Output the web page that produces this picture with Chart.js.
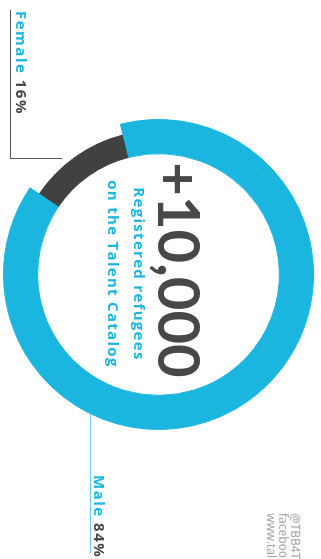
<!DOCTYPE html>
<html>
<head>
<meta charset="utf-8">
<script src="https://cdn.jsdelivr.net/npm/chart.js@4"></script>
<style>
  html, body { margin: 0; padding: 0; background: #fff; overflow: hidden; }
  body { width: 321px; height: 559px; position: relative; }
  /* the infographic is laid out landscape, then turned a quarter clockwise */
  #sheet {
    position: absolute; left: 0; top: 0; width: 559px; height: 321px;
    transform: translate(321px, 0) rotate(90deg); transform-origin: 0 0;
    overflow: hidden; font-family: "Open Sans", Lato, sans-serif;
  }
  #sheet div { position: absolute; white-space: nowrap; line-height: 1; }
  #ring { position: absolute; left: 119px; top: 7px; }
  .blue { color: #1bb6e0; }
  .grey { color: #484848; }
  .label { font-size: 15px; font-weight: 700; letter-spacing: 1.5px; }
  .caption { font-size: 15px; font-weight: 700; letter-spacing: 1.3px; text-align: center; width: 400px; }
</style>
</head>
<body>
<div id="sheet">
  <canvas id="ring" width="311" height="311"></canvas>
  <div style="left:10px;top:310px;width:148px;height:0;border-top:1px solid #555;"></div>
  <div style="left:158px;top:259px;width:0;height:52px;border-left:1px solid #555;"></div>
  <div style="left:413px;top:230px;width:140px;height:0;border-top:1.5px solid #6fd0ee;"></div>
  <div id="femaleLabel" class="label" style="left:11px;top:292px;"></div>
  <div id="maleLabel" class="label" style="left:475px;top:214px;"></div>
  <div id="total" class="grey" style="left:70px;top:112px;width:400px;text-align:center;font-family:Lato,sans-serif;font-size:58px;font-weight:700;"></div>
  <div id="caption1" class="blue caption" style="left:74px;top:174px;"></div>
  <div id="caption2" class="blue caption" style="left:74px;top:200px;"></div>
  <div id="footer" style="left:513px;top:20px;font-size:12px;color:#a3a3a3;"></div>
</div>
<script>
const categories = ['Female', 'Male'];
const shares = [16, 84];            // percentages printed on the labels
const arcShares = [11.6, 88.4];     // arc sizes as drawn in the graphic
const colors = ['#414141', '#1bb6e0'];
const totalText = '+10,000';
const captionLines = ['Registered refugees', 'on the Talent Catalog'];
const footerLines = ['@TBB4Talent', 'facebook.com/TBB4Talent', 'www.talentbeyondboundaries.org'];

document.getElementById('femaleLabel').innerHTML =
  '<span class="blue">' + categories[0] + '</span> <span class="grey">' + shares[0] + '%</span>';
document.getElementById('maleLabel').innerHTML =
  '<span class="blue">' + categories[1] + '</span> <span class="grey">' + shares[1] + '%</span>';
document.getElementById('total').textContent = totalText;
document.getElementById('caption1').textContent = captionLines[0];
document.getElementById('caption2').textContent = captionLines[1];
document.getElementById('footer').innerHTML = footerLines.join('<br>');
document.getElementById('footer').style.lineHeight = '12px';

// outer thin ring only carries the blue part, so the grey arc looks thinner
const ctx = document.getElementById('ring').getContext('2d');
const ringChart = new Chart(ctx, {
  type: 'doughnut',
  data: {
    labels: categories,
    datasets: [{
      data: arcShares,
      backgroundColor: ['rgba(0,0,0,0)', colors[1]],
      borderColor: ['rgba(0,0,0,0)', colors[1]],
      borderWidth: 1,
      hoverBorderWidth: 1,
      hoverOffset: 0,
      weight: 11
    },
    {
      data: arcShares,
      backgroundColor: colors,
      borderColor: colors,
      borderWidth: 1,
      hoverBorderWidth: 1,
      hoverOffset: 0,
      weight: 23
    }]
  },
  options: {
    responsive: false,
    animation: false,
    events: [],
    rotation: -146,
    cutout: '78%',
    plugins: {
      legend: { display: false },
      tooltip: { enabled: false }
    }
  }
});
</script>
</body>
</html>
